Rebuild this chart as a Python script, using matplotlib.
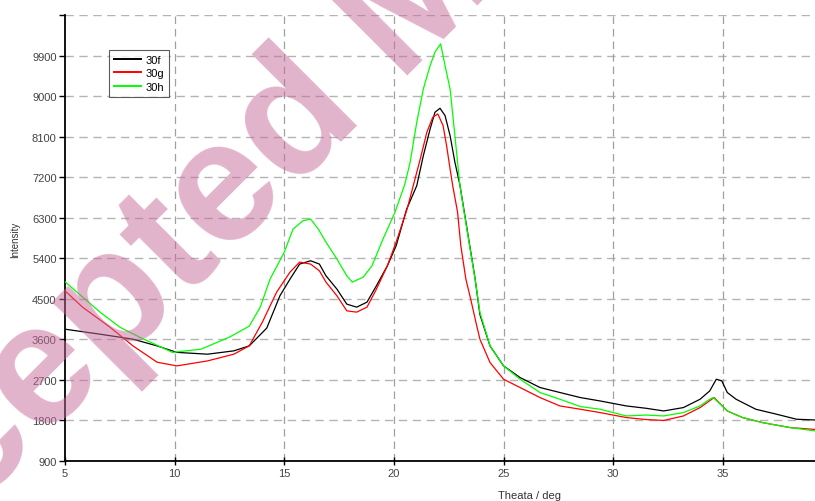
import matplotlib
matplotlib.use('Agg')
import matplotlib.pyplot as plt

font = ['Liberation Sans Narrow', 'Liberation Sans', 'DejaVu Sans']
plt.rcParams['font.family'] = font

# 30f (black)
x_30f = [5.0, 6.6, 8.1, 9.2, 10.1, 11.5, 12.7, 13.4, 14.2, 14.8, 15.26, 15.7, 16.2, 16.6,
         16.9, 17.4, 17.85, 18.3, 18.77, 19.2, 19.7, 20.1, 20.58, 21.04, 21.34, 21.65,
         21.87, 22.1, 22.33, 22.56, 22.78, 23.0, 23.2, 23.45, 23.7, 23.92, 24.38, 25.0,
         25.75, 26.66, 27.57, 28.5, 29.4, 30.6, 31.5, 32.3, 33.2, 33.96, 34.4, 34.7,
         34.95, 35.2, 35.6, 36.5, 37.45, 38.36, 39.2]
y_30f = [3826, 3715, 3604, 3455, 3311, 3271, 3345, 3455, 3850, 4567, 4937, 5271, 5345, 5271,
         5011, 4715, 4382, 4315, 4426, 4789, 5233, 5677, 6492, 7011, 7677, 8271,
         8641, 8730, 8567, 8122, 7530, 7049, 6450, 5700, 4950, 4150, 3455, 3011,
         2753, 2531, 2420, 2308, 2233, 2122, 2070, 2011, 2086, 2271, 2456, 2715,
         2678, 2420, 2271, 2049, 1938, 1827, 1811]

# 30g (red)
x_30g = [5.0, 5.8, 7.05, 8.1, 9.2, 10.1, 11.5, 12.7, 13.4, 14.0, 14.65, 15.26, 15.7, 16.2,
         16.6, 16.9, 17.4, 17.85, 18.3, 18.77, 19.2, 19.7, 20.1, 20.6, 20.96, 21.2, 21.5,
         21.77, 22.0, 22.24, 22.4, 22.56, 22.68, 22.9, 23.05, 23.28, 23.5, 23.74, 23.92,
         24.38, 25.0, 25.75, 26.66, 27.57, 28.5, 29.4, 30.6, 31.5, 32.3, 33.2, 33.96,
         34.6, 35.2, 35.9, 36.8, 38.06, 39.2]
y_30g = [4678, 4315, 3871, 3455, 3093, 3011, 3122, 3271, 3455, 3982, 4648, 5093, 5315, 5271,
         5122, 4871, 4567, 4233, 4204, 4315, 4715, 5233, 5760, 6492, 7160, 7604, 8197,
         8530, 8604, 8345, 7900, 7382, 7011, 6426, 5677, 4937, 4493, 3975, 3604,
         3086, 2715, 2531, 2308, 2122, 2049, 1975, 1864, 1820, 1800, 1900, 2086,
         2308, 2011, 1864, 1753, 1642, 1600]

# 30h (green)
x_30h = [5.0, 6.6, 7.5, 8.4, 9.9, 11.2, 12.5, 13.4, 13.9, 14.35, 15.0, 15.4, 15.85, 16.2,
         16.55, 16.9, 17.4, 17.85, 18.1, 18.6, 19.0, 19.5, 20.05, 20.5, 20.74, 21.04,
         21.34, 21.65, 21.87, 22.13, 22.33, 22.56, 22.78, 23.0, 23.2, 23.45, 23.7, 23.92,
         24.38, 25.0, 25.75, 26.66, 27.57, 28.5, 29.4, 30.6, 31.5, 32.3, 33.2, 33.96,
         34.4, 34.56, 34.8, 35.2, 35.9, 36.8, 38.06, 39.2]
y_30h = [4878, 4204, 3871, 3649, 3311, 3382, 3650, 3893, 4310, 4937, 5537, 6048, 6233, 6270,
         6048, 5760, 5382, 5011, 4871, 4982, 5233, 5826, 6426, 7049, 7537, 8419,
         9159, 9677, 9975, 10159, 9677, 9159, 8122, 7049, 6419, 5677, 4937, 4197,
         3455, 3011, 2715, 2420, 2271, 2108, 2049, 1900, 1920, 1900, 1975, 2122,
         2271, 2308, 2197, 2011, 1864, 1753, 1642, 1567]

series = [('30f', x_30f, y_30f, 'black'),
          ('30g', x_30g, y_30g, 'red'),
          ('30h', x_30h, y_30h, '#00ff00')]

y_ticks = [900, 1800, 2700, 3600, 4500, 5400, 6300, 7200, 8100, 9000, 9900]
x_ticks = [5, 10, 15, 20, 25, 30, 35]

fig = plt.figure(figsize=(8.15, 5.02), dpi=100)
ax = fig.add_axes([65 / 815, 40 / 502, 750 / 815, 446 / 502])

for name, xs, ys, c in series:
    ax.plot(xs, ys, color=c, lw=0.9, label=name, zorder=3)

ax.set_xlim(5, 39.2)
ax.set_ylim(900, 10800)
ax.set_xticks(x_ticks)
ax.set_yticks(y_ticks + [10800])
ax.set_yticklabels([str(v) for v in y_ticks] + [''])

for v in y_ticks[1:] + [10800]:
    ax.axhline(v, color='#b4b4b4', lw=1.0, dashes=(6, 4), zorder=1)
for v in x_ticks[1:]:
    ax.axvline(v, color='#a0a0a0', lw=0.9, dashes=(6, 4), zorder=1)

for s in ['top', 'right']:
    ax.spines[s].set_visible(False)
ax.spines['left'].set_linewidth(1.3)
ax.spines['bottom'].set_linewidth(1.3)
ax.tick_params(axis='both', direction='inout', length=6, width=1, labelsize=8,
               labelcolor='#444444', pad=2)
ax.tick_params(axis='y', which='major', direction='out', length=4, width=1)

leg = ax.legend(loc='upper left', bbox_to_anchor=(44 / 750, 411 / 446), fontsize=8,
                frameon=True, fancybox=False, handlelength=2.4, borderpad=0.45,
                labelspacing=0.3, handletextpad=0.4, borderaxespad=0)
leg.get_frame().set_edgecolor('#333333')
leg.get_frame().set_linewidth(0.8)
for h in leg.get_lines():
    h.set_linewidth(1.4)
leg.set_zorder(4)

fig.text(15 / 815, 1 - 240 / 502, 'Intensity', rotation=90, fontsize=7,
         color='#333333', ha='center', va='center')
fig.text(530 / 815, 1 - 496 / 502, 'Theata / deg', fontsize=8,
         color='#333333', ha='center', va='center')

# watermark
fig.text(434 / 815, 1 - 50 / 502, 'Accepted Manuscript', rotation=45,
         rotation_mode='anchor', ha='center', va='baseline', fontsize=124,
         fontweight='bold', family=['Liberation Sans', 'DejaVu Sans'],
         color='#c5699a', alpha=0.5, zorder=10)

fig.savefig('out.png', dpi=100)
